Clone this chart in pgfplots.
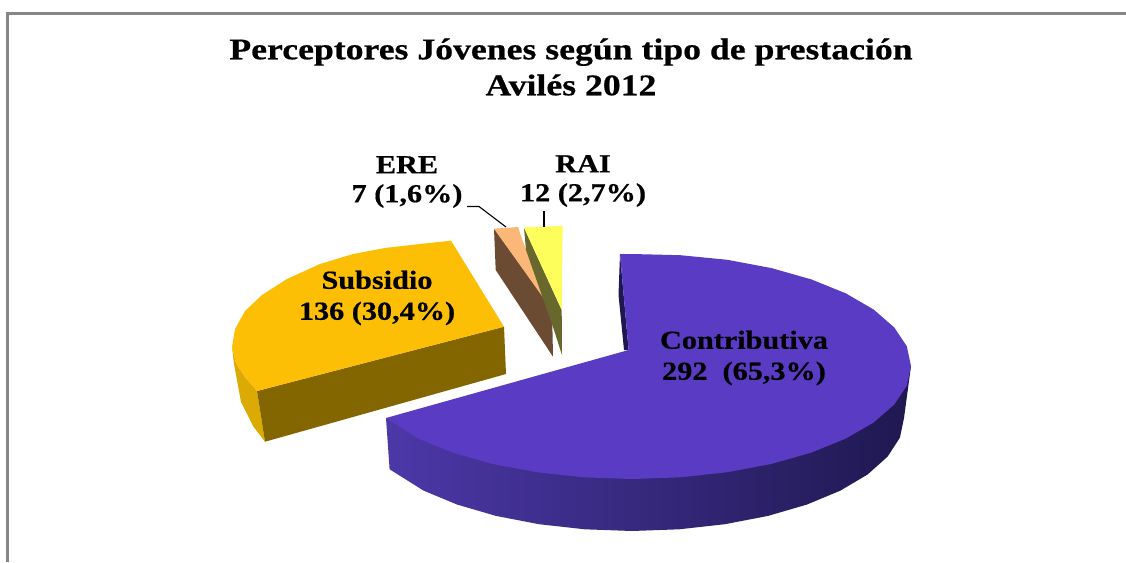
\documentclass[border=0pt]{standalone}
\usepackage{pgfplots}
\pgfplotsset{compat=1.18}
\usepackage{fontspec}
\setmainfont[BoldFeatures={FakeBold=0.5}]{Liberation Serif}
\definecolor{brd}{HTML}{868686}
\definecolor{ptop}{HTML}{5A3BC4}
\definecolor{pa}{HTML}{4C38A8}
\definecolor{pb}{HTML}{35277E}
\definecolor{pc}{HTML}{1F1850}
\definecolor{stop}{HTML}{FDBF05}
\definecolor{sfront}{HTML}{846600}
\definecolor{sside}{HTML}{DCAA04}
\definecolor{etop}{HTML}{FBB777}
\definecolor{eside}{HTML}{6B4B32}
\definecolor{rtop}{HTML}{FDFD5C}
\definecolor{rside}{HTML}{68682C}
\begin{document}
\begin{tikzpicture}
\begin{axis}[scale only axis,width=1126pt,height=562pt,xmin=0,xmax=1126,ymin=0,ymax=562,y dir=reverse,hide axis,clip=true]
% page
\addplot[draw=none,fill=white] coordinates {(0,0) (1126,0) (1126,562) (0,562)} --cycle;
% frame
\addplot[brd,line width=3pt,line cap=butt] coordinates {(7.5,562) (7.5,13) (1126,13)};
% Contributiva: wall and side
\addplot[draw=none,fill=pc] coordinates {(620,254) (618.5,295) (624,350) (628.6,350)} --cycle;
\addplot[draw=none,left color=pa,middle color=pb,right color=pc] coordinates {(386,418) (389.6,469.3) (423.6,490.6) (457.2,504.6) (496,515.9) (539,524.2) (584.8,529.3) (632,531) (679.2,529.3) (725,524.2) (768,515.9) (806.8,504.6) (840.4,490.6) (867.6,474.5) (887.6,456.6) (899.9,437.7) (904,418) (911,366) (655,440)} --cycle;
\addplot[draw=none,fill=ptop] coordinates {(620,254) (632,254) (680.4,255.2) (727.4,259.8) (771.5,268.1) (811.3,279.4) (845.7,293.3) (873.6,309.5) (894.2,327.4) (906.8,346.3) (911,366) (906.8,385.7) (894.2,404.6) (873.6,422.5) (845.7,438.6) (811.3,452.6) (771.5,463.9) (727.4,472.2) (680.4,477.3) (632,479) (583.6,477.3) (536.6,472.2) (492.5,463.9) (452.7,452.6) (418.3,438.6) (386,418) (628.6,350)} --cycle;
% Subsidio
\addplot[draw=none,fill=sside] coordinates {(232,347) (234,364) (241,402) (253,426) (265,441.7) (257,391) (245,377) (236,363)} --cycle;
\addplot[draw=none,fill=sfront] coordinates {(257,391) (504,326.7) (506,374) (265,441.7)} --cycle;
\addplot[draw=none,fill=stop] coordinates {(451,240.7) (504,326.7) (257,391) (245,377) (236,363) (232,347) (235,329) (245,311) (262,295) (287,279) (320,264) (353,254) (385,248) (420,244)} --cycle;
% ERE
\addplot[draw=none,fill=eside] coordinates {(494,228.7) (552,308) (553,356.7) (495.7,270)} --cycle;
\addplot[draw=none,fill=etop] coordinates {(494,228.7) (518,227) (523,242) (552,310)} --cycle;
% RAI
\addplot[draw=none,fill=rside] coordinates {(524,228) (561.7,310) (562,355) (554,330) (526,250)} --cycle;
\addplot[draw=none,fill=rtop] coordinates {(524,227.3) (562.7,225.7) (561.7,310)} --cycle;
% leaders
\addplot[black,line width=1.1pt] coordinates {(467,206.5) (479,206.5) (506,227)};
\addplot[black,line width=1.1pt] coordinates {(544,211) (544,227)};
% text
\node[align=center,xscale=1.19,transform shape,font=\bfseries\fontsize{30}{36}\selectfont] at (axis cs:571,67) {Perceptores Jóvenes según tipo de prestación\\Avilés 2012};
\node[align=center,xscale=1.163,transform shape,font=\bfseries\fontsize{26}{31}\selectfont] at (axis cs:377,298) {Subsidio\\136 (30,4\%)};
\node[align=center,xscale=1.163,transform shape,font=\bfseries\fontsize{26}{31}\selectfont] at (axis cs:744,358) {Contributiva\\292\ \ (65,3\%)};
\node[align=center,xscale=1.163,transform shape,font=\bfseries\fontsize{26}{29}\selectfont] at (axis cs:407,182) {ERE\\7 (1,6\%)};
\node[align=center,xscale=1.163,transform shape,font=\bfseries\fontsize{26}{29}\selectfont] at (axis cs:583,181) {RAI\\12 (2,7\%)};
\end{axis}
\end{tikzpicture}
\end{document}
